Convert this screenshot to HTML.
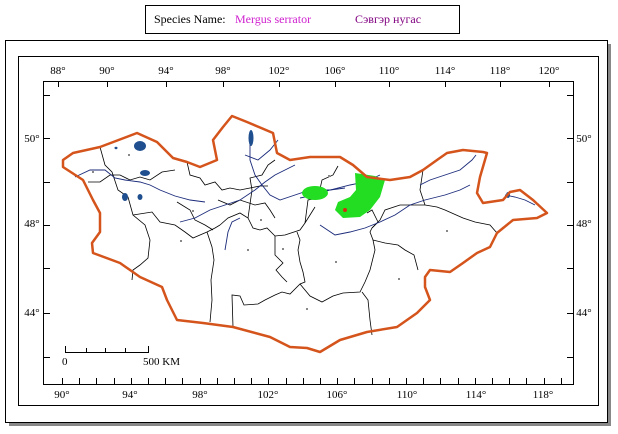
<!DOCTYPE html>
<html><head><meta charset="utf-8">
<style>
body{margin:0;background:#fff;width:618px;height:434px;overflow:hidden;font-family:"Liberation Serif",serif;}
svg{position:absolute;left:0;top:0}
</style></head>
<body>
<svg width="618" height="434">
<g>
<rect x="145.5" y="5.5" width="314" height="28" fill="#fff" stroke="#000"/>
<text x="154" y="23" font-size="12" fill="#000">Species Name:</text>
<text x="235" y="23" font-size="12" fill="#d020d0">Mergus serrator</text>
<text x="355" y="23" font-size="12" fill="#800080">Сэвгэр нугас</text>
</g>
<rect x="9" y="44" width="602" height="382" fill="#888"/>
<rect x="5.5" y="40.5" width="602" height="382" fill="#fff" stroke="#000"/>
<rect x="18.5" y="56.5" width="580" height="349" fill="#fff" stroke="#000"/>
<rect x="43.5" y="81.5" width="530" height="303" fill="#fff" stroke="#000"/>
<g id="ticks" stroke="#000"></g>
<g id="labels" font-size="11" fill="#000" text-anchor="middle"></g>

<g fill="none" stroke="#000" stroke-width="0.8">
<polyline points="100,147 105,165 112,172 118,190 128,197 133,215 145,225 150,240 148,258 140,265 133,270 132,280"/>
<polyline points="133,215 152,212 160,222 175,225 185,232 193,238 200,235 207,232 215,228 220,225"/>
<polyline points="187,162 190,175 200,178 205,185 215,182 222,190 230,188 240,190 250,188 260,186 268,186"/>
<polyline points="207,232 212,247 214,260 211,280 212,300 210,322"/>
<polyline points="220,225 228,218 240,213 248,218 253,228 260,230 267,228 275,236 285,235 300,230 305,223 310,215 315,207"/>
<polyline points="233,327 232,295 240,296 244,305 258,304 265,300 275,295 282,292 290,294 300,284 305,282 303,272 300,262 298,250 300,240 297,232"/>
<polyline points="300,284 310,296 322,302 333,296 343,293 360,292 365,282 370,270 372,262 375,250 373,240 370,232 372,228 378,222 372,210 367,213"/>
<polyline points="373,240 385,243 398,245 405,250 414,255 418,270"/>
<polyline points="362,292 368,300 370,320 372,335"/>
<polyline points="275,236 275,255 283,263 276,270 282,277 287,282"/>
<polyline points="248,218 252,190 250,178 262,175 268,165 275,160"/>
<polyline points="305,223 308,200 318,198 322,180 333,175 338,166"/>
<polyline points="372,228 380,220 385,210 400,205 425,205 437,207 445,210 463,218 475,222 490,225 497,233"/>
<polyline points="425,205 420,190 423,170"/>
<polyline points="88,182 100,182 110,175 120,175 130,180 140,177 150,180 162,172 175,170"/>
<polyline points="177,202 190,210 195,220 205,225 213,230"/>
<polyline points="218,200 230,205 240,200 255,205 265,203 270,210 275,218"/>
</g>
<g fill="none" stroke="#1a2a7a" stroke-width="0.9">
<polyline points="75,177 90,170 105,170 115,178 125,180 140,182 150,185 160,190 175,196 190,200 205,202"/>
<polyline points="250,140 250,160 255,175 262,185 270,195 280,200 295,195 310,190 330,190 350,185 365,182 380,175"/>
<polyline points="180,222 195,218 210,210 225,205 240,200 255,190 265,182 275,175 295,165"/>
<polyline points="225,250 228,232 232,222 240,218"/>
<polyline points="245,155 258,160 270,150 278,140"/>
<polyline points="320,225 335,235 350,232 365,228 380,222 395,215 410,205 425,200 445,195 460,190 470,185"/>
<polyline points="420,185 430,180 445,175 460,170 472,160 476,155"/>
<polyline points="505,195 515,197 525,200 535,205"/>
<polyline points="300,198 315,195 330,190 345,188"/>
</g>
<g fill="#1f4f8f">
<ellipse cx="140" cy="146" rx="6" ry="5"/>
<ellipse cx="251" cy="138" rx="2.5" ry="8"/>
<ellipse cx="145" cy="173" rx="5" ry="3"/>
<ellipse cx="125" cy="197" rx="3" ry="4"/>
<ellipse cx="140" cy="197" rx="2.5" ry="3"/>
<ellipse cx="508" cy="195" rx="2" ry="3"/>
<ellipse cx="116" cy="148" rx="1.5" ry="1.2"/>
</g>
<g fill="#888">
<rect x="128" y="154" width="2" height="2"/><rect x="92" y="171" width="2" height="2"/>
<rect x="192" y="210" width="2" height="2"/><rect x="180" y="240" width="2" height="2"/>
<rect x="247" y="249" width="2" height="2"/><rect x="260" y="219" width="2" height="2"/>
<rect x="282" y="248" width="2" height="2"/><rect x="306" y="308" width="2" height="2"/>
<rect x="335" y="261" width="2" height="2"/><rect x="446" y="230" width="2" height="2"/>
<rect x="398" y="278" width="2" height="2"/><rect x="328" y="175" width="2" height="2"/>
</g>
<g fill="#22dd22">
<ellipse cx="315" cy="193" rx="13" ry="7"/>
<path d="M355,173 L375,176 L385,180 L380,197 L370,210 L360,217 L343,218 L335,210 L338,202 L350,197 L356,190 Z"/>
</g>
<circle cx="345" cy="210" r="2" fill="#d03010"/>
<polygon fill="none" stroke="#d4541c" stroke-width="2.5" stroke-linejoin="round"
points="63,160 73,153 100,147 137,133 157,142 173,158 187,162 200,167 217,160 213,140 223,127 232,116 247,122 273,133 277,153 290,160 310,157 340,157 353,165 367,177 390,180 410,177 423,170 437,160 447,153 463,150 483,152 487,153 480,177 477,193 483,203 503,200 510,192 520,190 533,200 547,213 537,218 513,220 497,233 490,247 477,253 463,263 450,272 430,270 425,277 425,287 430,300 417,313 397,327 367,332 340,340 320,352 307,348 290,347 270,337 233,327 203,323 177,320 167,300 162,287 140,277 120,263 93,253 92,243 100,232 100,213 93,200 83,180 63,167"/>
<g stroke="#000">
<line x1="65" y1="352.5" x2="149" y2="352.5"/>
<line x1="65.5" y1="346" x2="65.5" y2="352"/><line x1="86.5" y1="348" x2="86.5" y2="352"/>
<line x1="105.5" y1="348" x2="105.5" y2="352"/><line x1="125.5" y1="348" x2="125.5" y2="352"/>
<line x1="148.5" y1="346" x2="148.5" y2="352"/>
</g>
<text x="62" y="365" font-size="11">0</text>
<text x="143" y="365" font-size="11">500 KM</text>
</svg>
<script>
const topLabels=["88°","90°","94°","98°","102°","106°","110°","114°","118°","120°"];
const topPos=[58,107,166,223,279,335,389,445,500,549];
const botLabels=["90°","94°","98°","102°","106°","110°","114°","118°"];
const botPos=[62,130,200,268,337,407,476,543];
const latLabels=["50°","48°","44°"];
const latPos=[138,223,312];
const NS="http://www.w3.org/2000/svg";
const lg=document.getElementById('labels'),tg=document.getElementById('ticks');
function txt(x,y,s,name){const t=document.createElementNS(NS,'text');t.setAttribute('x',x);t.setAttribute('y',y);t.textContent=s;


lg.appendChild(t);}
function tk(x1,y1,x2,y2){const l=document.createElementNS(NS,'line');l.setAttribute('x1',x1);l.setAttribute('y1',y1);l.setAttribute('x2',x2);l.setAttribute('y2',y2);


tg.appendChild(l);}
topLabels.forEach((s,i)=>{txt(topPos[i],74,s,'top-lon-label');tk(topPos[i]+.5,82,topPos[i]+.5,87);});
botLabels.forEach((s,i)=>{txt(botPos[i],398,s,'bottom-lon-label');});
for(let x=62;x<574;x+=17.2){tk(Math.round(x)+.5,378,Math.round(x)+.5,384);}
latLabels.forEach((s,i)=>{txt(32,latPos[i]+4,s,'left-lat-label');txt(584,latPos[i]+4,s,'right-lat-label');});
[95,138,182,225,268,313,357].forEach(y=>{tk(44,y+.5,50,y+.5);tk(567,y+.5,573,y+.5);});
</script>
</body></html>
